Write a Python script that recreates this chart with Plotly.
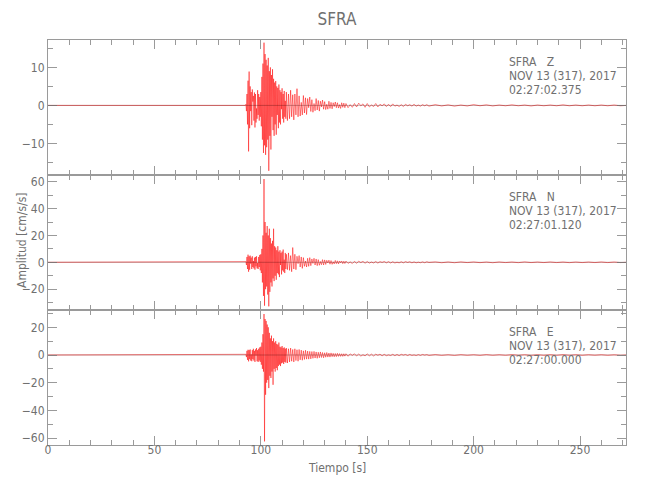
import numpy as np
import plotly.graph_objects as go
from plotly.subplots import make_subplots

# ---------------- data ----------------
title = "SFRA"
components = ["Z", "N", "E"]
dates = ["NOV 13 (317), 2017"] * 3
times = ["02:27:02.375", "02:27:01.120", "02:27:00.000"]
x_end = 271.6
pre_event_end = 92.75

# sampling grid pieces (seconds)
t_burst = np.arange(93.0, 112.0, 0.25)    # 76 samples
t_coda = np.arange(112.0, 140.0, 0.5)     # 56 samples
t_late = np.arange(140.0, 180.0, 1.0)     # 40 samples
t_tail = np.arange(182.0, 270.0, 3.0)     # 30 samples

z_burst = [0.3, -1.5, 3.0, -5.0, 6.5, -12.1, 8.9, -6.0, 5.0, -1.5, 3.5, -5.2, 4.2, 1.0, 2.5, -4.0,
           3.4, -5.8, 3.0, -4.5, -0.8, -3.5, 4.0, -2.5, 3.0, -4.0, 2.2, -3.0, 3.5, -5.5, 7.5, -9.0,
           11.0, -12.5, 16.5, -10.5, 13.5, -13.0, 12.0, -11.0, 10.5, -9.0, 12.5, -17.2, 9.0, -8.0,
           10.0, -11.6, 8.0, -3.0, 9.5, -6.5, 7.0, -8.0, 6.0, -5.0, 6.4, -7.7, 5.0, -2.5, 4.6, -6.0,
           5.5, -4.5, 4.0, -5.0, 3.5, -1.0, 4.5, -3.5, 3.0, -4.5, 3.8, -3.0, 1.2, -3.5]
z_coda = [3.5, -4.0, 3.0, -3.5, 4.0, -3.0, 2.8, -3.8, 3.0, -2.5, 4.4, -3.0, 2.5, -2.8, 0.8, -2.5,
          2.6, -2.0, 2.0, -2.4, 1.8, -0.6, 2.2, -1.6, 1.5, -1.8, 0.5, -1.4, 1.8, -1.2, 1.3, -1.5,
          1.1, -0.4, 1.4, -1.0, 1.0, -1.1, 0.3, -1.0, 1.1, -0.8, 0.8, -0.9, 0.7, -0.3, 0.9, -0.6,
          0.7, -0.7, 0.2, -0.8, 0.7, -0.5, 0.6, -0.6]
z_late = [0.5, -0.6, 0.2, -0.5, 0.5, -0.4, 0.6, -0.1, 0.4, -0.5, 0.5, -0.4, 0.1, -0.3, 0.5, -0.4,
          0.3, -0.1, 0.4, -0.3, 0.3, -0.3, 0.4, -0.2, 0.1, -0.3, 0.2, -0.3, 0.3, -0.1, 0.2, -0.2,
          0.3, -0.2, 0.1, -0.2, 0.2, -0.1, 0.2, -0.2]
z_tail = [0.2, -0.15, 0.15, -0.2, 0.1, -0.15, 0.2, -0.1, 0.15, -0.15, 0.1, -0.1, 0.15, -0.1, 0.1,
          -0.15, 0.1, -0.1, 0.1, -0.1, 0.15, -0.1, 0.1, -0.1, 0.1, -0.1, 0.1, -0.1, 0.1, -0.1]

n_burst = [0.5, -2.0, 4.0, -5.0, 5.7, -7.0, 4.5, -5.5, 5.0, -1.0, 3.5, -5.0, 4.5, -3.5, 1.0, -4.5,
           3.5, -5.5, 4.0, -3.0, 4.5, -4.5, -0.5, -5.0, 4.0, -3.5, 5.5, -6.0, 6.0, -8.0, 10.0, -15.0,
           20.0, -25.0, 62.0, -32.3, 30.0, -20.0, 22.0, -18.0, 27.0, -24.0, 20.0, -32.8, 25.0, -22.0,
           18.0, -15.0, 14.0, -18.0, 16.0, -12.0, 25.0, -14.0, 12.0, -10.0, 11.0, -13.0, 9.0, -8.0,
           12.0, -9.0, 8.0, -11.0, 9.0, -2.0, 7.0, -9.0, 8.0, -6.0, 9.5, -7.0, 2.0, -8.0, 7.0, -5.0]
n_coda = [6.0, -5.5, 7.0, -6.0, 5.0, -7.0, 11.0, -5.0, 6.0, -5.5, 4.5, -1.0, 5.0, -3.5, 4.0, -4.5,
          3.5, -3.0, 1.0, -3.5, 3.0, -3.0, 3.5, -2.5, 2.5, -0.8, 3.0, -2.0, 2.5, -2.5, 2.0, -2.2,
          0.6, -1.8, 2.0, -2.0, 1.8, -1.6, 1.5, -0.5, 1.6, -1.4, 1.3, -1.5, 0.4, -1.2, 1.4, -1.0,
          1.1, -1.2, 1.0, -0.3, 1.0, -1.0, 0.8, -0.9]
n_late = [0.9, -0.8, 0.3, -0.9, 0.7, -0.7, 0.8, -0.2, 0.7, -0.7, 0.6, -0.6, 0.2, -0.5, 0.6, -0.6,
          0.5, -0.1, 0.6, -0.4, 0.5, -0.5, 0.4, -0.5, 0.1, -0.4, 0.4, -0.4, 0.5, -0.1, 0.4, -0.4,
          0.3, -0.4, 0.1, -0.3, 0.3, -0.3, 0.4, -0.1]
n_tail = [0.3, -0.3, 0.25, -0.3, 0.3, -0.2, 0.25, -0.25, 0.2, -0.3, 0.25, -0.2, 0.2, -0.25, 0.3,
          -0.2, 0.2, -0.2, 0.25, -0.2, 0.2, -0.25, 0.2, -0.2, 0.2, -0.2, 0.25, -0.2, 0.2, -0.2]

e_burst = [0.5, -1.5, 3.0, -3.5, 3.8, -4.6, 3.5, -3.0, 4.0, -4.0, 0.5, -4.5, 3.5, -3.0, 4.5, -4.0,
           3.0, -5.0, 4.0, -0.5, 5.0, -4.5, 3.5, -5.0, 4.5, -4.0, 5.5, -5.0, 6.0, -7.0, 9.0, -10.0,
           15.0, -12.0, 29.6, -62.4, 26.0, -28.7, 24.6, -20.0, 22.0, -18.0, 20.0, -23.9, 16.0, -15.0,
           12.0, -16.6, 14.0, -12.0, 10.0, -21.5, 12.0, -10.0, 9.0, -12.0, 10.0, -9.4, 8.0, -11.0,
           7.5, -8.0, 9.0, -7.0, 6.0, -8.0, 5.5, -6.0, 6.5, -5.5, 5.0, -6.5, 5.5, -5.0, 4.5, -5.5]
e_coda = [5.0, -5.8, 4.5, -5.0, 5.0, -4.5, 4.0, -5.0, 4.5, -4.0, 3.8, -4.5, 4.0, -3.5, 3.5, -3.8,
          3.0, -3.2, 3.4, -3.0, 2.8, -3.0, 2.6, -2.8, 2.5, -2.4, 2.6, -2.2, 2.2, -2.4, 2.0, -2.0,
          2.2, -1.8, 1.8, -2.0, 1.6, -1.6, 1.8, -1.5, 1.4, -1.5, 1.5, -1.2, 1.2, -1.3, 1.1, -1.2,
          1.2, -1.0, 1.0, -1.0, 0.9, -1.0, 0.9, -0.8]
e_late = [0.9, -0.9, 0.8, -0.3, 0.9, -0.7, 0.7, -0.8, 0.2, -0.6, 0.8, -0.6, 0.6, -0.7, 0.6, -0.2,
          0.6, -0.6, 0.5, -0.5, 0.1, -0.4, 0.5, -0.5, 0.4, -0.5, 0.5, -0.1, 0.4, -0.4, 0.4, -0.3,
          0.1, -0.4, 0.3, -0.3, 0.4, -0.1, 0.3, -0.3]
e_tail = [0.3, -0.25, 0.2, -0.3, 0.25, -0.2, 0.2, -0.25, 0.3, -0.2, 0.2, -0.2, 0.25, -0.2, 0.2,
          -0.25, 0.2, -0.2, 0.2, -0.2, 0.25, -0.2, 0.2, -0.2, 0.2, -0.15, 0.2, -0.2, 0.15, -0.2]

traces = [
    (z_burst, z_coda, z_late, z_tail),
    (n_burst, n_coda, n_late, n_tail),
    (e_burst, e_coda, e_late, e_tail),
]
y_ranges = [[-18.3, 17.2], [-35.5, 65.0], [-65.0, 32.5]]
y_dticks = [10, 20, 20]
y_minor = [5, 10, 10]

# ---------------- figure ----------------
W, H = 650, 500
OFF = 8                      # page body margin
PL, PR, PT, PB = 48, 626, 40, 445   # plot area in screen pixels
plot_w = PR - PL
plot_h = PB - PT

FONT = "Liberation Sans Narrow, Arial Narrow, DejaVu Sans Condensed, sans-serif"
AX = "#9a9a9a"
TXT = "#707070"

fig = make_subplots(rows=3, cols=1, shared_xaxes=True, vertical_spacing=0)

for i, (b, c, l, tl) in enumerate(traces):
    t = np.concatenate([[0.0, pre_event_end], t_burst, t_coda, t_late, t_tail, [x_end]])
    y = np.concatenate([[0.0, 0.0], b, c, l, tl, [0.0]])
    assert len(t) == len(y)
    fig.add_trace(go.Scatter(x=t, y=y, mode="lines",
                             line=dict(color="#ff0000", width=0.5),
                             hoverinfo="skip", showlegend=False), row=i + 1, col=1)
    fig.add_shape(type="line", x0=0, x1=x_end, y0=0, y1=0,
                  line=dict(color="rgba(60,0,0,0.5)", width=0.6), layer="above",
                  row=i + 1, col=1)
    fig.update_yaxes(range=y_ranges[i], dtick=y_dticks[i], tick0=0, ticks="inside",
                     ticklen=9, tickcolor=AX, tickwidth=1,
                     minor=dict(dtick=y_minor[i], tick0=0, ticks="inside", ticklen=5,
                                tickcolor=AX, tickwidth=1),
                     showline=True, linecolor=AX, linewidth=1, mirror="allticks",
                     showgrid=False, zeroline=False,
                     tickfont=dict(family=FONT, size=12, color=TXT),
                     row=i + 1, col=1)
    fig.update_xaxes(range=[0, x_end], dtick=50, tick0=0, ticks="inside", ticklen=9,
                     tickcolor=AX, tickwidth=1,
                     minor=dict(dtick=10, tick0=0, ticks="inside", ticklen=5,
                                tickcolor=AX, tickwidth=1),
                     showline=True, linecolor=AX, linewidth=1, mirror="allticks",
                     showgrid=False, zeroline=False,
                     showticklabels=(i == 2),
                     ticklabelstandoff=-6,
                     tickfont=dict(family=FONT, size=12, color=TXT),
                     row=i + 1, col=1)


def py_to_paper(py):
    return (PB - py) / plot_h


def px_to_paper(px):
    return (px - PL) / plot_w


panel_h = plot_h / 3
ann_x = px_to_paper(507)
for i in range(3):
    top = PT + panel_h * i
    lines = ["SFRA\u00a0\u00a0\u00a0" + components[i], dates[i], times[i]]
    offs = [22, 36, 50]
    for txt, o in zip(lines, offs):
        fig.add_annotation(text=txt, xref="paper", yref="paper", x=ann_x, y=py_to_paper(top + o),
                           xanchor="left", yanchor="middle", showarrow=False,
                           font=dict(family=FONT, size=12, color=TXT))

fig.add_annotation(text="Amplitud [cm/s/s]", xref="paper", yref="paper",
                   x=px_to_paper(22), y=py_to_paper(240), textangle=-90,
                   xanchor="center", yanchor="middle", showarrow=False,
                   font=dict(family=FONT, size=12, color=TXT))
fig.add_annotation(text="Tiempo [s]", xref="paper", yref="paper",
                   x=px_to_paper(337), y=py_to_paper(468), xanchor="center", yanchor="middle",
                   showarrow=False, font=dict(family=FONT, size=12, color=TXT))

fig.update_layout(
    width=W, height=H,
    margin=dict(l=PL - OFF, r=W + OFF - PR, t=PT - OFF, b=H + OFF - PB),
    paper_bgcolor="white", plot_bgcolor="white",
    title=dict(text=title, x=(PL + plot_w / 2 - OFF) / W, xanchor="center",
               y=1 - (19 - OFF) / H, yanchor="middle",
               font=dict(family=FONT, size=17, color=TXT)),
)

fig.write_html("out.html")
